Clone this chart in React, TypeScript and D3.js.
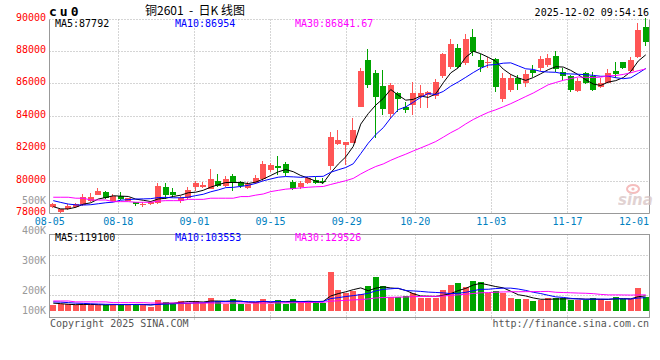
import React from "react";
import * as d3 from "d3";

// trading days shown on the chart (cu2601 daily)
const dates = [
  "08-05", "08-06", "08-07", "08-08", "08-11", "08-12", "08-13", "08-14", "08-15",
  "08-18", "08-19", "08-20", "08-21", "08-22", "08-25", "08-26", "08-27", "08-28", "08-29",
  "09-01", "09-02", "09-03", "09-04", "09-05", "09-08", "09-09", "09-10", "09-11", "09-12",
  "09-15", "09-16", "09-17", "09-18", "09-19", "09-22", "09-23", "09-24", "09-25", "09-26",
  "09-29", "09-30", "10-09", "10-10", "10-13", "10-14", "10-15", "10-16", "10-17",
  "10-20", "10-21", "10-22", "10-23", "10-24", "10-27", "10-28", "10-29", "10-30", "10-31",
  "11-03", "11-04", "11-05", "11-06", "11-07", "11-10", "11-11", "11-12", "11-13", "11-14",
  "11-17", "11-18", "11-19", "11-20", "11-21", "11-24", "11-25", "11-26", "11-27", "11-28",
  "12-01", "12-02",
];

const open = [
  78400, 78110, 78270, 78440, 78540, 78810, 79180, 79360, 78790, 79110,
  78790, 78710, 78520, 78580, 78680, 79630, 79360, 78810, 78950, 79670,
  79630, 79520, 80020, 79730, 80350, 79980, 79570, 79880, 80120, 80700,
  80930, 81060, 79980, 79630, 79880, 80080, 80020, 80940, 82300, 82220,
  82380, 84600, 87470, 86650, 85870, 84150, 85460, 84600, 84700, 85210,
  85320, 85260, 86510, 87020, 88190, 87270, 88910, 87470, 87270, 87520,
  85050, 85630, 86350, 86080, 86860, 86960, 87170, 87740, 86760, 86490,
  85580, 86650, 86490, 85830, 86080, 86820, 87330, 86800, 87680, 89530,
];
const high = [
  78650, 78320, 78580, 78650, 79220, 79260, 79570, 79410, 79220, 79330,
  79000, 78750, 78710, 78810, 79920, 79880, 79570, 79090, 79630, 80020,
  79980, 80760, 80450, 80330, 80450, 80020, 79980, 80390, 81250, 81150,
  81560, 81210, 80080, 80040, 80290, 80250, 80190, 83060, 83160, 82450,
  83880, 86960, 88130, 86860, 86860, 86080, 85480, 84910, 86100, 85930,
  85560, 86290, 87930, 88750, 88440, 89080, 89380, 87830, 87680, 87620,
  86650, 86610, 86550, 86860, 87170, 87740, 87830, 88050, 86960, 86550,
  86350, 86760, 86760, 86350, 86900, 87330, 87370, 87680, 89770, 90040,
];
const low = [
  78350, 78070, 78230, 78340, 78480, 78710, 79150, 78890, 78760, 78850,
  78760, 78500, 78440, 78540, 78600, 78890, 79060, 78650, 78890, 79420,
  79570, 79510, 79630, 79670, 79420, 79600, 79510, 79850, 80050, 80600,
  80400, 80330, 79470, 79510, 79840, 79840, 79840, 80700, 82240, 81010,
  82340, 84600, 85730, 82650, 84090, 83880, 84290, 84230, 84090, 84540,
  84540, 85050, 86350, 86900, 86960, 87170, 87720, 86760, 86960, 85520,
  84910, 85520, 85630, 85830, 86450, 86820, 87060, 86760, 86240, 85520,
  85520, 86000, 85550, 85770, 86040, 86350, 86900, 86650, 87580, 88340,
];
const close = [
  78600, 78270, 78480, 78580, 79020, 79050, 79420, 78950, 79110, 78910,
  78950, 78600, 78600, 78710, 79710, 79160, 79160, 78990, 79460, 79880,
  79750, 80140, 79730, 80140, 79880, 79730, 79830, 80190, 81060, 81000,
  80850, 80530, 79530, 79880, 80190, 79920, 79940, 82710, 82550, 82410,
  83160, 86800, 85930, 85180, 84440, 85930, 85050, 84400, 85420, 85460,
  85520, 86140, 87830, 88460, 87020, 88770, 87990, 87060, 87370, 85790,
  86350, 86350, 86000, 86610, 86650, 87520, 87620, 86900, 86510, 85630,
  86180, 86060, 85600, 86050, 86690, 86610, 87000, 87450, 89300, 88600,
];
const volume = [
  47000, 55000, 55000, 47000, 55000, 47000, 47000, 47000, 55000, 55000,
  47000, 55000, 47000, 34000, 87000, 73000, 66000, 81000, 66000, 81000,
  61000, 105000, 81000, 55000, 97000, 55000, 55000, 73000, 97000, 55000,
  87000, 55000, 97000, 73000, 73000, 73000, 66000, 308000, 166000, 145000,
  158000, 134000, 197000, 268000, 197000, 113000, 113000, 121000, 140000, 105000,
  105000, 105000, 166000, 205000, 224000, 192000, 239000, 231000, 145000, 158000,
  140000, 105000, 95000, 95000, 81000, 87000, 105000, 105000, 100000, 87000,
  87000, 87000, 105000, 95000, 81000, 113000, 95000, 95000, 180000, 113000,
];

// moving-average values before the window fills
const ma5Head = [78440, 78300, 78300, 78400];
const ma10Head = [78810, 78700, 78600, 78550, 78540, 78560, 78620, 78680, 78720];
const ma30Head = [
  79020, 79020, 79020, 78960, 78960, 78850, 78850, 78850, 78750, 78750,
  78750, 78710, 78710, 78710, 78780, 78810, 78810, 78810, 78890, 78890,
  78890, 78960, 78960, 78960, 78960, 79060, 79060, 79150, 79220,
];
const volMa5Head = [62000, 58000, 53000, 50000];
const volMa10Head = [72000, 70000, 66000, 62000, 60000, 57000, 55000, 53000, 52000];
const volMa30Head = [
  79000, 79000, 79000, 72000, 72000, 72000, 72000, 72000, 66000, 66000,
  66000, 66000, 66000, 63000, 63000, 63000, 63000, 63000, 63000, 63000,
  63000, 63000, 63000, 63000, 63000, 63000, 63000, 63000, 63000,
];

const tickDates = ["08-05", "08-18", "09-01", "09-15", "09-29", "10-20", "11-03", "11-17", "12-01"];
const gridDates = ["08-18", "09-01", "09-15", "09-29", "10-20", "11-03", "11-17"];
const priceTicks = [90000, 88000, 86000, 84000, 82000, 80000, 78000];
const volTicks = [500000, 400000, 300000, 200000, 100000];

const priceLegend = ["MA5:87792", "MA10:86954", "MA30:86841.67"];
const volLegend = ["MA5:119100", "MA10:103553", "MA30:129526"];
const maColors = ["#000000", "#0000ff", "#ff00ff"];

const W = 660;
const H = 360;
const left = 49.5;
const right = 649.5;
const priceTop = 19.5;
const priceBottom = 213.5;
const volTop = 234.5;
const volBottom = 317.5;
const volBase = 311;

const RED = "#ff5555";
const GREEN = "#00a400";
const GRID = "#aaaaaa";
const BORDER = "#999999";
const MONO = "'DejaVu Sans Mono', monospace";

function movingAvg(values: number[], n: number, head: number[]) {
  return values.map((_, i) => {
    if (i < n - 1) return head[i];
    return d3.mean(values.slice(i - n + 1, i + 1)) as number;
  });
}

export default function App() {
  const xb = d3.scaleBand<string>().domain(dates).range([left, right]);
  // sina's grid/date labels run on a slightly wider step than the candles
  const gx = d3.scaleLinear().domain([0, dates.length - 1]).range([49.8, 651.2]);
  const y = d3.scaleLinear().domain([78000, 90000]).range([213.8, 19]);
  const vy = d3.scaleLinear().domain([0, 600000]).range([volBase, 235]);
  const volLabelY = d3.scaleLinear().domain([0, 500000]).range([350.7, 200.7]);

  const cx = (d: string) => (xb(d) as number) + 3.75;
  const bodyX = (d: string) => Math.round((xb(d) as number) + 0.75);
  const crisp = (v: number) => Math.floor(v) + 0.5;

  const priceMA = [
    movingAvg(close, 5, ma5Head),
    movingAvg(close, 10, ma10Head),
    movingAvg(close, 30, ma30Head),
  ];
  const volMA = [
    movingAvg(volume, 5, volMa5Head),
    movingAvg(volume, 10, volMa10Head),
    movingAvg(volume, 30, volMa30Head),
  ];

  const priceLine = d3
    .line<number>()
    .x((_, i) => cx(dates[i]))
    .y((v) => y(v));
  const volLine = d3
    .line<number>()
    .x((_, i) => cx(dates[i]))
    .y((v) => vy(v));

  return (
    <svg
      width={W}
      height={H}
      style={{ position: "absolute", left: 0, top: 0, background: "#fff" }}
      fontFamily={MONO}
      fontSize={10}
    >
      <rect x={0} y={0} width={W} height={H} fill="#fff" />

      {/* header */}
      <text x={49} y={15.5} fontSize={13} fontWeight="bold" letterSpacing={3} fill="#000">
        cu0
      </text>
      <text
        x={195}
        y={15}
        textAnchor="middle"
        fontSize={12}
        fontFamily="'Noto Sans CJK SC', sans-serif"
        fill="#000"
        style={{ whiteSpace: "pre" }}
      >
        {"铜2601  -  日K 线图"}
      </text>
      <text x={649} y={15.5} textAnchor="end" fill="#000">
        2025-12-02 09:54:16
      </text>

      {/* price panel grid */}
      {priceTicks.slice(0, -1).map((t) => (
        <line
          key={"pg" + t}
          x1={left}
          x2={right}
          y1={crisp(y(t))}
          y2={crisp(y(t))}
          stroke={GRID}
          strokeDasharray="1,2"
        />
      ))}
      {gridDates.map((d) => (
        <line
          key={"vg" + d}
          x1={crisp(gx(dates.indexOf(d)))}
          x2={crisp(gx(dates.indexOf(d)))}
          y1={priceTop}
          y2={priceBottom}
          stroke={GRID}
          strokeDasharray="1,2"
        />
      ))}
      <line x1={left} x2={left} y1={priceTop} y2={priceBottom} stroke={BORDER} />
      <line x1={right} x2={right} y1={priceTop} y2={priceBottom} stroke={BORDER} />
      <line x1={left} x2={right} y1={priceBottom} y2={priceBottom} stroke={BORDER} />

      {/* price axis labels */}
      {priceTicks.map((t) => (
        <text key={"pl" + t} x={46} y={crisp(y(t)) + 1.5} textAnchor="end" fill="#ff0000">
          {t}
        </text>
      ))}
      {/* volume axis labels (sina stacks them up the left margin) */}
      {volTicks.map((t) => (
        <text
          key={"vl" + t}
          x={46}
          y={Math.min(volLabelY(t), 310.7) + 3.6}
          textAnchor="end"
          fill="#999999"
        >
          {t / 1000 + "K"}
        </text>
      ))}

      {/* sina watermark */}
      <g opacity={0.75}>
        <ellipse cx={633} cy={189} rx={6} ry={4} fill="none" stroke="#f2a8a8" strokeWidth={2} />
        <circle cx={633} cy={189} r={1.6} fill="#f2a8a8" />
        <text
          x={618}
          y={205}
          fontSize={15}
          fontStyle="italic"
          fontWeight="bold"
          fontFamily="'DejaVu Sans', sans-serif"
          fill="#d8c4c4"
        >
          sina
        </text>
      </g>

      {/* candles */}
      {dates.map((d, i) => {
        const up = close[i] >= open[i];
        const color = up ? RED : GREEN;
        const x0 = bodyX(d);
        const top = Math.round(y(Math.max(open[i], close[i])));
        const bot = Math.round(y(Math.min(open[i], close[i])));
        return (
          <g key={"c" + d}>
            <line
              x1={x0 + 2.5}
              x2={x0 + 2.5}
              y1={Math.round(y(high[i]))}
              y2={Math.round(y(low[i]))}
              stroke={color}
            />
            <rect x={x0} y={top} width={6} height={Math.max(1, bot - top)} fill={color} />
          </g>
        );
      })}

      {/* price MAs */}
      {priceMA.map((s, k) => (
        <path key={"pm" + k} d={priceLine(s) as string} fill="none" stroke={maColors[k]} strokeWidth={1} />
      ))}
      {priceLegend.map((t, k) => (
        <text key={"plg" + k} x={55 + k * 120} y={27} fill={maColors[k]}>
          {t}
        </text>
      ))}

      {/* date labels */}
      {tickDates.map((d) => {
        const px = Math.max(48, Math.min(gx(dates.indexOf(d)), 634));
        return (
          <text key={"dl" + d} x={px} y={225} textAnchor="middle" fill="#0080c0">
            {d}
          </text>
        );
      })}

      {/* volume panel */}
      {[1, 2, 3].map((k) => (
        <line
          key={"vh" + k}
          x1={left}
          x2={right}
          y1={volTop + 21 + (k - 1) * 20}
          y2={volTop + 21 + (k - 1) * 20}
          stroke={GRID}
          strokeDasharray="1,2"
        />
      ))}
      {gridDates.map((d) => (
        <line
          key={"vv" + d}
          x1={crisp(gx(dates.indexOf(d)))}
          x2={crisp(gx(dates.indexOf(d)))}
          y1={volTop}
          y2={volBottom + 3}
          stroke={GRID}
          strokeDasharray="1,2"
        />
      ))}
      <rect
        x={left}
        y={volTop}
        width={right - left}
        height={volBottom - volTop}
        fill="none"
        stroke={BORDER}
      />
      {dates.map((d, i) => {
        const up = close[i] >= open[i];
        const top = Math.round(vy(volume[i]));
        return (
          <rect
            key={"v" + d}
            x={bodyX(d)}
            y={top}
            width={6}
            height={volBase - top}
            fill={up ? RED : GREEN}
          />
        );
      })}
      {volMA.map((s, k) => (
        <path key={"vm" + k} d={volLine(s) as string} fill="none" stroke={maColors[k]} strokeWidth={1} />
      ))}
      {volLegend.map((t, k) => (
        <text key={"vlg" + k} x={55 + k * 120} y={241} fill={maColors[k]}>
          {t}
        </text>
      ))}

      {/* footer */}
      <text x={50} y={327} fill="#555555">
        Copyright 2025 SINA.COM
      </text>
      <text x={649} y={327} textAnchor="end" fill="#555555">
        http://finance.sina.com.cn
      </text>
    </svg>
  );
}
